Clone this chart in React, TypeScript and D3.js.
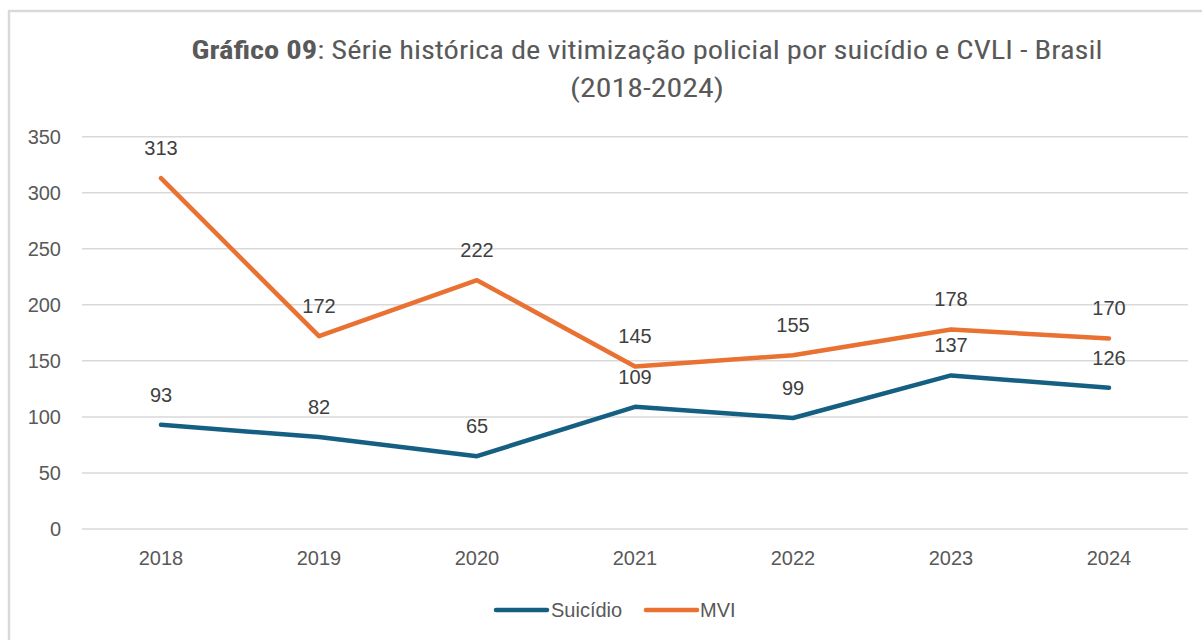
import React from "react";
import * as d3 from "d3";

const years = ["2018", "2019", "2020", "2021", "2022", "2023", "2024"];
const suicidio = [93, 82, 65, 109, 99, 137, 126];
const mvi = [313, 172, 222, 145, 155, 178, 170];
const yTicks = [0, 50, 100, 150, 200, 250, 300, 350];

const W = 1202;
const H = 640;
const BLUE = "#156082";
const ORANGE = "#E97132";

export default function App() {
  const x = d3.scalePoint<string>().domain(years).range([82, 1188]).padding(0.5);
  const y = d3.scaleLinear().domain([0, 350]).range([529, 136.7]);
  const line = d3
    .line<number>()
    .x((_, i) => x(years[i]) as number)
    .y((d) => y(d));

  const series = [
    { name: "Suicídio", values: suicidio, color: BLUE },
    { name: "MVI", values: mvi, color: ORANGE },
  ];

  const font = "'Liberation Sans', Arial, sans-serif";
  const titleFont =
    "'Liberation Sans Narrow', 'Arial Narrow', 'Roboto Condensed', 'Liberation Sans', sans-serif";

  return (
    <svg
      width={W}
      height={H}
      style={{ position: "absolute", left: 0, top: 0, background: "#fff" }}
    >
      <rect x={0} y={0} width={W} height={H} fill="#fff" />
      {/* border */}
      <path d={`M9,${H} V11 H${W}`} fill="none" stroke="#d9d9d9" strokeWidth={2.5} />

      {/* title */}
      <text
        x={647}
        y={59}
        textAnchor="middle"
        fontFamily={titleFont}
        fontSize={25.5}
        fill="#595959"
        textLength={911}
        lengthAdjust="spacingAndGlyphs"
      >
        <tspan fontWeight="bold">Gráfico 09</tspan>
        <tspan>: Série histórica de vitimização policial por suicídio e CVLI - Brasil</tspan>
      </text>
      <text
        x={647}
        y={97}
        textAnchor="middle"
        fontFamily={titleFont}
        fontSize={25.5}
        fill="#595959"
        textLength={154}
        lengthAdjust="spacingAndGlyphs"
      >
        (2018-2024)
      </text>

      {/* grid */}
      {yTicks.map((t) => (
        <g key={t}>
          <line x1={82} x2={1188} y1={y(t)} y2={y(t)} stroke="#d9d9d9" strokeWidth={1.5} />
          <text
            x={61}
            y={y(t)}
            dy="0.35em"
            textAnchor="end"
            fontFamily={font}
            fontSize={20}
            fill="#595959"
          >
            {t}
          </text>
        </g>
      ))}

      {/* x labels */}
      {years.map((yr) => (
        <text
          key={yr}
          x={x(yr)}
          y={558}
          dy="0.35em"
          textAnchor="middle"
          fontFamily={font}
          fontSize={20}
          fill="#595959"
        >
          {yr}
        </text>
      ))}

      {/* lines */}
      {series.map((s) => (
        <path
          key={s.name}
          d={line(s.values) || ""}
          fill="none"
          stroke={s.color}
          strokeWidth={4.5}
          strokeLinecap="round"
          strokeLinejoin="round"
        />
      ))}

      {/* data labels */}
      {series.map((s) =>
        s.values.map((v, i) => (
          <text
            key={s.name + i}
            x={x(years[i])}
            y={y(v) - 30}
            dy="0.35em"
            textAnchor="middle"
            fontFamily={font}
            fontSize={20}
            fill="#404040"
          >
            {v}
          </text>
        ))
      )}

      {/* legend */}
      <g>
        <line x1={496} x2={547} y1={610} y2={610} stroke={BLUE} strokeWidth={4.5} strokeLinecap="round" />
        <text x={551} y={610} dy="0.35em" fontFamily={font} fontSize={20} fill="#595959">
          Suicídio
        </text>
        <line x1={646} x2={697} y1={610} y2={610} stroke={ORANGE} strokeWidth={4.5} strokeLinecap="round" />
        <text x={700} y={610} dy="0.35em" fontFamily={font} fontSize={20} fill="#595959">
          MVI
        </text>
      </g>
    </svg>
  );
}
